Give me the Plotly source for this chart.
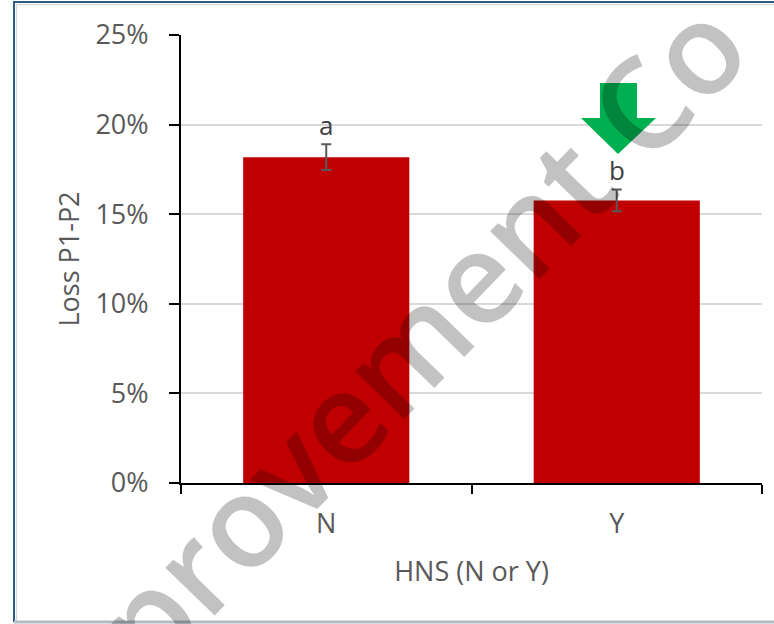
import plotly.graph_objects as go

# ---- data ----
categories = ["N", "Y"]
loss = [0.1818, 0.1577]
err = [0.0072, 0.0061]
letters = ["a", "b"]
y_ticks = [0, 0.05, 0.10, 0.15, 0.20, 0.25]
y_tick_labels = ["0%", "5%", "10%", "15%", "20%", "25%"]
x_title = "HNS (N or Y)"
y_title = "Loss P1-P2"
watermark = "provement Co"

W, H = 774, 624
L, R, T, B = 181, 12, 35, 141
PW, PH = W - L - R, H - T - B


def px(x):
    return (x - L) / PW


def py(y):
    return (H - B - y) / PH


FONT = "Open Sans, Noto Sans, sans-serif"
GRAY = "#595959"

fig = go.Figure()
fig.add_trace(go.Bar(
    x=categories, y=loss,
    marker=dict(color="#c00000", line=dict(width=0)),
    error_y=dict(type="data", array=err, visible=True, color=GRAY, thickness=2, width=5),
    showlegend=False, hoverinfo="skip",
))

annotations = []
for c, v, e, t in zip(categories, loss, err, letters):
    annotations.append(dict(
        x=c, y=v + e, xref="x", yref="y", text=t, showarrow=False,
        yanchor="bottom", xanchor="center", yshift=-1,
        font=dict(family=FONT, size=26, color="#404040"),
    ))

# watermark
annotations.append(dict(
    x=px(418), y=py(333), xref="paper", yref="paper", text=watermark,
    showarrow=False, textangle=-46, xanchor="center", yanchor="middle",
    font=dict(family=FONT, size=127, weight=600, color="rgba(0,0,0,0.24)"),
))

# green arrow pointing down to the Y bar
arrow_path = (
    f"M {px(600)} {py(83)} L {px(637)} {py(83)} L {px(637)} {py(118)} "
    f"L {px(656)} {py(118)} L {px(618)} {py(154)} L {px(581)} {py(118)} "
    f"L {px(600)} {py(118)} Z"
)
shapes = [
    dict(type="path", path=arrow_path, xref="paper", yref="paper",
         fillcolor="#00b050", line=dict(width=0), layer="above"),
    # frame
    dict(type="line", xref="paper", yref="paper", x0=px(14), x1=px(14), y0=py(1), y1=py(622),
         line=dict(color="#2e5c8a", width=2), layer="above"),
    dict(type="line", xref="paper", yref="paper", x0=px(14), x1=px(780), y0=py(2), y1=py(2),
         line=dict(color="#2e5c8a", width=2), layer="above"),
    dict(type="line", xref="paper", yref="paper", x0=px(16.5), x1=px(16.5), y0=py(4), y1=py(621),
         line=dict(color="#d9d9d9", width=1.5), layer="above"),
    dict(type="line", xref="paper", yref="paper", x0=px(16), x1=px(780), y0=py(4.5), y1=py(4.5),
         line=dict(color="#d9d9d9", width=1.5), layer="above"),
    dict(type="line", xref="paper", yref="paper", x0=px(14), x1=px(780), y0=py(622), y1=py(622),
         line=dict(color="#b4bcc4", width=3), layer="above"),
]

fig.update_layout(
    width=W, height=H,
    margin=dict(l=L, r=R, t=T, b=B, pad=0),
    paper_bgcolor="white", plot_bgcolor="white",
    bargap=0.428,
    font=dict(family=FONT, size=26, color=GRAY),
    annotations=annotations,
    shapes=shapes,
    xaxis=dict(
        type="category", showline=True, linecolor="black", linewidth=2,
        ticks="outside", tickson="boundaries", ticklen=9, tickwidth=2, tickcolor="black",
        tickfont=dict(family=FONT, size=27, color=GRAY),
        ticklabelstandoff=16,
        title=dict(text=x_title, font=dict(family=FONT, size=27, color=GRAY), standoff=22),
        showgrid=False,
    ),
    yaxis=dict(
        range=[0, 0.25], tickvals=y_ticks, ticktext=y_tick_labels,
        showline=True, linecolor="black", linewidth=2,
        ticks="outside", ticklen=10, tickwidth=2, tickcolor="black",
        tickfont=dict(family=FONT, size=27, color=GRAY),
        ticklabelstandoff=15,
        showgrid=True, gridcolor="#d9d9d9", gridwidth=2, zeroline=False,
        title=dict(text=y_title, font=dict(family=FONT, size=27, color=GRAY), standoff=8),
    ),
)

fig.write_html(
    "out.html",
    config={"displayModeBar": False},
    post_script="document.body.style.margin='0';document.body.style.overflow='hidden';",
)
